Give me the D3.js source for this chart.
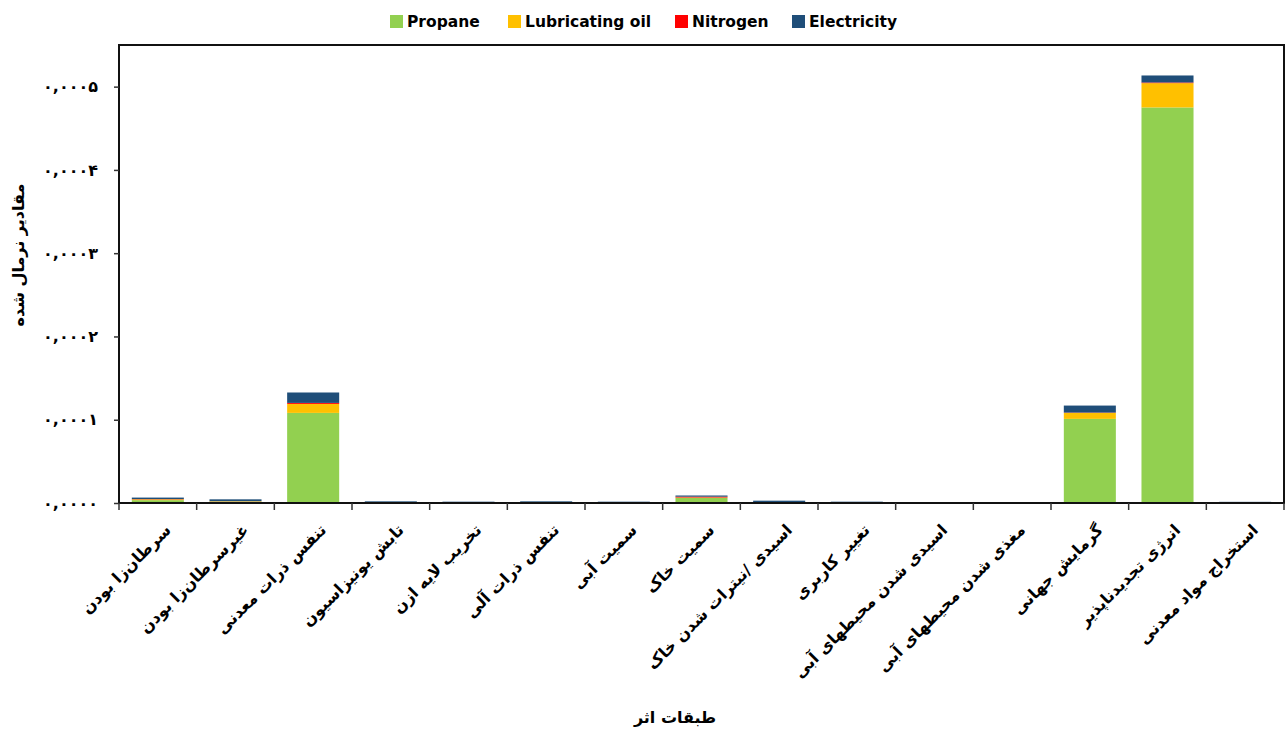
<!DOCTYPE html>
<html>
<head>
<meta charset="utf-8">
<script src="https://cdn.jsdelivr.net/npm/d3@7"></script>
<style>
  body { margin: 0; background: #fff; }
  text { font-family: "DejaVu Sans", sans-serif; }
</style>
</head>
<body>
<script>
// data
const categories = [
  'سرطان‌زا بودن', 'غیرسرطان‌زا بودن', 'تنفس ذرات معدنی', 'تابش یونیزاسیون',
  'تخریب لایه ازن', 'تنفس ذرات آلی', 'سمیت آبی', 'سمیت خاک',
  'اسیدی /نیترات شدن خاک', 'تغییر کاربری', 'اسیدی شدن محیطهای آبی',
  'مغذی شدن محیطهای آبی', 'گرمایش جهانی', 'انرژی تجدیدناپذیر', 'استخراج مواد معدنی'
]
const seriesNames = ['Propane', 'Lubricating oil', 'Nitrogen', 'Electricity']
const propane     = [3.4e-6, 1.6e-6, 1.082e-4, 0.3e-6, 0.9e-6, 0.3e-6, 0.9e-6, 6.2e-6, 0.4e-6, 0.9e-6, 0, 0, 1.01e-4, 4.75e-4, 0.6e-6]
const lubeOil     = [1.0e-6, 0.5e-6, 1.08e-5, 0.1e-6, 0.3e-6, 0.1e-6, 0.3e-6, 0.4e-6, 0.1e-6, 0.3e-6, 0, 0, 7.2e-6, 2.92e-5, 0.2e-6]
const nitrogen    = [0.3e-6, 0.1e-6, 1.2e-6, 0, 0, 0, 0, 1.0e-6, 0.1e-6, 0, 0, 0, 0.4e-6, 0.8e-6, 0]
const electricity = [1.8e-6, 2.2e-6, 1.25e-5, 1.6e-6, 0.4e-6, 1.6e-6, 0.4e-6, 1.4e-6, 2.2e-6, 0.4e-6, 0, 0, 8.4e-6, 8.4e-6, 0.6e-6]
const yTicks = [0, 0.0001, 0.0002, 0.0003, 0.0004, 0.0005]
const yTickLabels = ['۰,۰۰۰۰', '۰,۰۰۰۱', '۰,۰۰۰۲', '۰,۰۰۰۳', '۰,۰۰۰۴', '۰,۰۰۰۵']
const colors = ['#92D050', '#FFC000', '#FF0000', '#1F4E79']

const m = { width: 1285, height: 731, left: 119, right: 1284, top: 45, bottom: 503 }

const svg = d3.select('body').append('svg')
  .attr('width', m.width)
  .attr('height', m.height)

const rows = categories.map((c, i) => ({
  cat: c,
  'Propane': propane[i],
  'Lubricating oil': lubeOil[i],
  'Nitrogen': nitrogen[i],
  'Electricity': electricity[i]
}))

const stack = d3.stack().keys(seriesNames)(rows)

const x = d3.scaleBand()
  .domain(categories)
  .range([m.left, m.right])
  .paddingInner(0.33)
  .paddingOuter(0.165)

const y = d3.scaleLinear()
  .domain([0, 0.00055])
  .range([m.bottom, m.top])

// bars
svg.append('g').selectAll('g')
  .data(stack)
  .enter()
  .append('g')
    .attr('fill', (d, i) => colors[i])
  .selectAll('rect')
  .data(d => d)
  .enter()
  .append('rect')
    .attr('x', d => x(d.data.cat))
    .attr('width', x.bandwidth())
    .attr('y', d => y(d[1]))
    .attr('height', d => Math.max(0, y(d[0]) - y(d[1])))

// frame
svg.append('rect')
  .attr('x', m.left)
  .attr('y', m.top)
  .attr('width', m.right - m.left)
  .attr('height', m.bottom - m.top)
  .attr('fill', 'none')
  .attr('stroke', '#111')
  .attr('stroke-width', 2)

// y axis
const yAxis = svg.append('g')
  .attr('transform', `translate(${m.left},0)`)
  .call(d3.axisLeft(y).tickValues(yTicks).tickSize(5).tickPadding(16)
    .tickFormat((d, i) => yTickLabels[i]))
yAxis.select('.domain').remove()
yAxis.selectAll('line').attr('stroke', '#333').attr('stroke-width', 1.5)
yAxis.selectAll('text')
  .attr('font-size', 16)
  .attr('font-weight', 'bold')
  .attr('fill', '#000')
  .attr('letter-spacing', 1.5)
  .attr('direction', 'ltr')

// x axis ticks at category boundaries
const bounds = d3.range(categories.length + 1).map(i => m.left + i * (m.right - m.left) / categories.length)
svg.append('g').selectAll('line')
  .data(bounds)
  .enter()
  .append('line')
    .attr('x1', d => d).attr('x2', d => d)
    .attr('y1', m.bottom).attr('y2', m.bottom + 7)
    .attr('stroke', '#333')
    .attr('stroke-width', 1.5)

// x labels
svg.append('g').selectAll('text')
  .data(categories)
  .enter()
  .append('text')
    .attr('transform', d => `translate(${x(d) + x.bandwidth() / 2 + 14},${m.bottom + 28}) rotate(-45)`)
    .attr('text-anchor', 'end')
    .attr('font-size', 16)
    .attr('font-weight', 'bold')
    .attr('fill', '#000')
    .text(d => d)

// axis titles
svg.append('text')
  .attr('x', 675)
  .attr('y', 723)
  .attr('text-anchor', 'middle')
  .attr('font-size', 16)
  .attr('font-weight', 'bold')
  .text('طبقات اثر')

svg.append('text')
  .attr('transform', 'translate(24,255) rotate(-90)')
  .attr('text-anchor', 'middle')
  .attr('font-size', 16)
  .attr('font-weight', 'bold')
  .text('مقادیر نرمال شده')

// legend
const legendX = [390, 508, 675, 792]
const legend = svg.append('g').selectAll('g')
  .data(seriesNames)
  .enter()
  .append('g')
    .attr('transform', (d, i) => `translate(${legendX[i]},15)`)
legend.append('rect')
  .attr('width', 13).attr('height', 13)
  .attr('fill', (d, i) => colors[i])
legend.append('text')
  .attr('x', 17).attr('y', 12)
  .attr('font-family', 'Lato, sans-serif')
  .attr('font-size', 15.5)
  .attr('font-weight', 'bold')
  .text(d => d)
</script>
</body>
</html>
